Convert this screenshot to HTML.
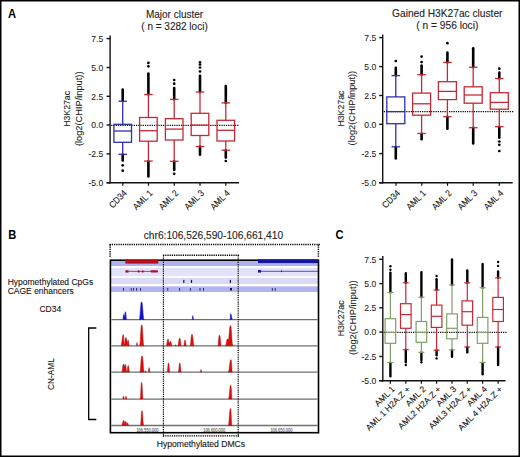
<!DOCTYPE html>
<html><head><meta charset="utf-8"><style>
html,body{margin:0;padding:0;background:#fff;}
body{width:520px;height:457px;overflow:hidden;}
svg{display:block;}
text{font-family:"Liberation Sans",sans-serif;}
</style></head><body>
<svg width="520" height="457" viewBox="0 0 520 457">
<rect width="520" height="457" fill="#fff"/>
<rect x="0.75" y="0.75" width="518.5" height="455.5" fill="none" stroke="#000" stroke-width="1.5"/>
<text x="0" y="0" font-size="12" text-anchor="start" fill="#000" font-weight="bold" transform="translate(8 17.6) scale(0.93 1)">A</text>
<text x="0" y="0" font-size="10" text-anchor="middle" fill="#222" stroke="#222" stroke-width="0.1" transform="translate(174.5 17.6)">Major cluster</text>
<text x="0" y="0" font-size="10" text-anchor="middle" fill="#222" stroke="#222" stroke-width="0.1" transform="translate(174.5 29.6)">( n = 3282 loci)</text>
<line x1="110.1" y1="35.4" x2="110.1" y2="183.39999999999998" stroke="#111" stroke-width="1.4"/>
<line x1="106.6" y1="182.7" x2="239.1" y2="182.7" stroke="#111" stroke-width="1.4"/>
<line x1="106.6" y1="38.6" x2="110.1" y2="38.6" stroke="#111" stroke-width="1.4"/>
<text x="0" y="0" font-size="9.3" text-anchor="end" fill="#1a1a1a" stroke="#1a1a1a" stroke-width="0.08" transform="translate(103.2 41.800000000000004) scale(0.925 1)">7.5</text>
<line x1="106.6" y1="67.5" x2="110.1" y2="67.5" stroke="#111" stroke-width="1.4"/>
<text x="0" y="0" font-size="9.3" text-anchor="end" fill="#1a1a1a" stroke="#1a1a1a" stroke-width="0.08" transform="translate(103.2 70.7) scale(0.925 1)">5.0</text>
<line x1="106.6" y1="96.3" x2="110.1" y2="96.3" stroke="#111" stroke-width="1.4"/>
<text x="0" y="0" font-size="9.3" text-anchor="end" fill="#1a1a1a" stroke="#1a1a1a" stroke-width="0.08" transform="translate(103.2 99.5) scale(0.925 1)">2.5</text>
<line x1="106.6" y1="125.0" x2="110.1" y2="125.0" stroke="#111" stroke-width="1.4"/>
<text x="0" y="0" font-size="9.3" text-anchor="end" fill="#1a1a1a" stroke="#1a1a1a" stroke-width="0.08" transform="translate(103.2 128.2) scale(0.925 1)">0.0</text>
<line x1="106.6" y1="153.9" x2="110.1" y2="153.9" stroke="#111" stroke-width="1.4"/>
<text x="0" y="0" font-size="9.3" text-anchor="end" fill="#1a1a1a" stroke="#1a1a1a" stroke-width="0.08" transform="translate(103.2 157.1) scale(0.925 1)">-2.5</text>
<line x1="106.6" y1="182.7" x2="110.1" y2="182.7" stroke="#111" stroke-width="1.4"/>
<text x="0" y="0" font-size="9.3" text-anchor="end" fill="#1a1a1a" stroke="#1a1a1a" stroke-width="0.08" transform="translate(103.2 185.89999999999998) scale(0.925 1)">-5.0</text>
<text x="0" y="0" font-size="9.4" text-anchor="middle" fill="#222" stroke="#222" stroke-width="0.1" transform="translate(70.2 108.9) rotate(-90) scale(0.93 1)">H3K27ac</text>
<text x="0" y="0" font-size="9.5" text-anchor="middle" fill="#222" stroke="#222" stroke-width="0.1" transform="translate(81.6 108.8) rotate(-90) scale(0.975 1)">(log2(CHIP/input))</text>
<path d="M111.20 124.65h1.2v1.3h-1.2zM113.45 124.65h1.2v1.3h-1.2zM115.70 124.65h1.2v1.3h-1.2zM117.95 124.65h1.2v1.3h-1.2zM120.20 124.65h1.2v1.3h-1.2zM122.45 124.65h1.2v1.3h-1.2zM124.70 124.65h1.2v1.3h-1.2zM126.95 124.65h1.2v1.3h-1.2zM129.20 124.65h1.2v1.3h-1.2zM131.45 124.65h1.2v1.3h-1.2zM133.70 124.65h1.2v1.3h-1.2zM135.95 124.65h1.2v1.3h-1.2zM138.20 124.65h1.2v1.3h-1.2zM140.45 124.65h1.2v1.3h-1.2zM142.70 124.65h1.2v1.3h-1.2zM144.95 124.65h1.2v1.3h-1.2zM147.20 124.65h1.2v1.3h-1.2zM149.45 124.65h1.2v1.3h-1.2zM151.70 124.65h1.2v1.3h-1.2zM153.95 124.65h1.2v1.3h-1.2zM156.20 124.65h1.2v1.3h-1.2zM158.45 124.65h1.2v1.3h-1.2zM160.70 124.65h1.2v1.3h-1.2zM162.95 124.65h1.2v1.3h-1.2zM165.20 124.65h1.2v1.3h-1.2zM167.45 124.65h1.2v1.3h-1.2zM169.70 124.65h1.2v1.3h-1.2zM171.95 124.65h1.2v1.3h-1.2zM174.20 124.65h1.2v1.3h-1.2zM176.45 124.65h1.2v1.3h-1.2zM178.70 124.65h1.2v1.3h-1.2zM180.95 124.65h1.2v1.3h-1.2zM183.20 124.65h1.2v1.3h-1.2zM185.45 124.65h1.2v1.3h-1.2zM187.70 124.65h1.2v1.3h-1.2zM189.95 124.65h1.2v1.3h-1.2zM192.20 124.65h1.2v1.3h-1.2zM194.45 124.65h1.2v1.3h-1.2zM196.70 124.65h1.2v1.3h-1.2zM198.95 124.65h1.2v1.3h-1.2zM201.20 124.65h1.2v1.3h-1.2zM203.45 124.65h1.2v1.3h-1.2zM205.70 124.65h1.2v1.3h-1.2zM207.95 124.65h1.2v1.3h-1.2zM210.20 124.65h1.2v1.3h-1.2zM212.45 124.65h1.2v1.3h-1.2zM214.70 124.65h1.2v1.3h-1.2zM216.95 124.65h1.2v1.3h-1.2zM219.20 124.65h1.2v1.3h-1.2zM221.45 124.65h1.2v1.3h-1.2zM223.70 124.65h1.2v1.3h-1.2zM225.95 124.65h1.2v1.3h-1.2zM228.20 124.65h1.2v1.3h-1.2zM230.45 124.65h1.2v1.3h-1.2zM232.70 124.65h1.2v1.3h-1.2zM234.95 124.65h1.2v1.3h-1.2zM237.20 124.65h1.2v1.3h-1.2z" fill="#000"/>
<line x1="122.7" y1="89.5" x2="122.7" y2="101" stroke="#000" stroke-width="2.6" stroke-linecap="round"/>
<line x1="122.7" y1="154.5" x2="122.7" y2="160.5" stroke="#000" stroke-width="2.6" stroke-linecap="round"/>
<circle cx="122.7" cy="165.3" r="1.35" fill="#000"/>
<circle cx="122.7" cy="170.7" r="1.35" fill="#000"/>
<line x1="122.7" y1="101.2" x2="122.7" y2="124.3" stroke="#3030aa" stroke-width="1.3"/>
<line x1="122.7" y1="142.3" x2="122.7" y2="154.3" stroke="#3030aa" stroke-width="1.3"/>
<line x1="118.4" y1="101.2" x2="127.0" y2="101.2" stroke="#3030aa" stroke-width="1.3"/>
<line x1="118.4" y1="154.3" x2="127.0" y2="154.3" stroke="#3030aa" stroke-width="1.3"/>
<rect x="113.9" y="124.3" width="17.6" height="18.000000000000014" fill="none" stroke="#3030aa" stroke-width="1.3"/>
<line x1="113.9" y1="131.0" x2="131.5" y2="131.0" stroke="#3030aa" stroke-width="1.3"/>
<line x1="148.4" y1="73.5" x2="148.4" y2="94.5" stroke="#000" stroke-width="2.6" stroke-linecap="round"/>
<circle cx="148.4" cy="62.9" r="1.35" fill="#000"/>
<circle cx="148.4" cy="66.3" r="1.35" fill="#000"/>
<line x1="148.4" y1="161.2" x2="148.4" y2="176.5" stroke="#000" stroke-width="2.6" stroke-linecap="round"/>
<line x1="148.4" y1="94.5" x2="148.4" y2="117.5" stroke="#c42a36" stroke-width="1.3"/>
<line x1="148.4" y1="141.2" x2="148.4" y2="161.1" stroke="#c42a36" stroke-width="1.3"/>
<line x1="144.1" y1="94.5" x2="152.70000000000002" y2="94.5" stroke="#c42a36" stroke-width="1.3"/>
<line x1="144.1" y1="161.1" x2="152.70000000000002" y2="161.1" stroke="#c42a36" stroke-width="1.3"/>
<rect x="139.6" y="117.5" width="17.6" height="23.69999999999999" fill="none" stroke="#c42a36" stroke-width="1.3"/>
<line x1="139.6" y1="130.7" x2="157.20000000000002" y2="130.7" stroke="#c42a36" stroke-width="1.3"/>
<line x1="174.2" y1="88" x2="174.2" y2="99.4" stroke="#000" stroke-width="2.6" stroke-linecap="round"/>
<circle cx="174.2" cy="80" r="1.35" fill="#000"/>
<circle cx="174.2" cy="83.7" r="1.35" fill="#000"/>
<line x1="174.2" y1="161.4" x2="174.2" y2="170" stroke="#000" stroke-width="2.6" stroke-linecap="round"/>
<circle cx="174.2" cy="173.8" r="1.35" fill="#000"/>
<line x1="174.2" y1="99.4" x2="174.2" y2="118.7" stroke="#c42a36" stroke-width="1.3"/>
<line x1="174.2" y1="140.0" x2="174.2" y2="161.3" stroke="#c42a36" stroke-width="1.3"/>
<line x1="169.89999999999998" y1="99.4" x2="178.5" y2="99.4" stroke="#c42a36" stroke-width="1.3"/>
<line x1="169.89999999999998" y1="161.3" x2="178.5" y2="161.3" stroke="#c42a36" stroke-width="1.3"/>
<rect x="165.39999999999998" y="118.7" width="17.6" height="21.299999999999997" fill="none" stroke="#c42a36" stroke-width="1.3"/>
<line x1="165.39999999999998" y1="129.1" x2="183.0" y2="129.1" stroke="#c42a36" stroke-width="1.3"/>
<line x1="200.0" y1="75.8" x2="200.0" y2="92" stroke="#000" stroke-width="2.6" stroke-linecap="round"/>
<circle cx="200.0" cy="62.3" r="1.35" fill="#000"/>
<circle cx="200.0" cy="64.5" r="1.35" fill="#000"/>
<circle cx="200.0" cy="67.5" r="1.35" fill="#000"/>
<circle cx="200.0" cy="71.5" r="1.35" fill="#000"/>
<line x1="200.0" y1="146.6" x2="200.0" y2="154.7" stroke="#000" stroke-width="2.6" stroke-linecap="round"/>
<line x1="200.0" y1="92.0" x2="200.0" y2="113.3" stroke="#c42a36" stroke-width="1.3"/>
<line x1="200.0" y1="135.5" x2="200.0" y2="146.5" stroke="#c42a36" stroke-width="1.3"/>
<line x1="195.7" y1="92.0" x2="204.3" y2="92.0" stroke="#c42a36" stroke-width="1.3"/>
<line x1="195.7" y1="146.5" x2="204.3" y2="146.5" stroke="#c42a36" stroke-width="1.3"/>
<rect x="191.2" y="113.3" width="17.6" height="22.200000000000003" fill="none" stroke="#c42a36" stroke-width="1.3"/>
<line x1="191.2" y1="125.1" x2="208.8" y2="125.1" stroke="#c42a36" stroke-width="1.3"/>
<line x1="225.8" y1="86" x2="225.8" y2="102.9" stroke="#000" stroke-width="2.6" stroke-linecap="round"/>
<line x1="225.8" y1="150.3" x2="225.8" y2="157.6" stroke="#000" stroke-width="2.6" stroke-linecap="round"/>
<circle cx="225.8" cy="161" r="1.35" fill="#000"/>
<line x1="225.8" y1="102.9" x2="225.8" y2="120.3" stroke="#c42a36" stroke-width="1.3"/>
<line x1="225.8" y1="141.0" x2="225.8" y2="150.2" stroke="#c42a36" stroke-width="1.3"/>
<line x1="221.5" y1="102.9" x2="230.10000000000002" y2="102.9" stroke="#c42a36" stroke-width="1.3"/>
<line x1="221.5" y1="150.2" x2="230.10000000000002" y2="150.2" stroke="#c42a36" stroke-width="1.3"/>
<rect x="217.0" y="120.3" width="17.6" height="20.700000000000003" fill="none" stroke="#c42a36" stroke-width="1.3"/>
<line x1="217.0" y1="130.3" x2="234.60000000000002" y2="130.3" stroke="#c42a36" stroke-width="1.3"/>
<line x1="122.8" y1="182.7" x2="122.8" y2="185.7" stroke="#111" stroke-width="1.2"/>
<text x="0" y="0" font-size="9.2" text-anchor="end" fill="#111" stroke="#111" stroke-width="0.1" transform="translate(127.6 193.7) rotate(-45) scale(0.9 1)">CD34</text>
<line x1="148.5" y1="182.7" x2="148.5" y2="185.7" stroke="#111" stroke-width="1.2"/>
<text x="0" y="0" font-size="9.2" text-anchor="end" fill="#111" stroke="#111" stroke-width="0.1" transform="translate(153.3 193.7) rotate(-45) scale(0.9 1)">AML 1</text>
<line x1="174.3" y1="182.7" x2="174.3" y2="185.7" stroke="#111" stroke-width="1.2"/>
<text x="0" y="0" font-size="9.2" text-anchor="end" fill="#111" stroke="#111" stroke-width="0.1" transform="translate(179.10000000000002 193.7) rotate(-45) scale(0.9 1)">AML 2</text>
<line x1="200.0" y1="182.7" x2="200.0" y2="185.7" stroke="#111" stroke-width="1.2"/>
<text x="0" y="0" font-size="9.2" text-anchor="end" fill="#111" stroke="#111" stroke-width="0.1" transform="translate(204.8 193.7) rotate(-45) scale(0.9 1)">AML 3</text>
<line x1="225.8" y1="182.7" x2="225.8" y2="185.7" stroke="#111" stroke-width="1.2"/>
<text x="0" y="0" font-size="9.2" text-anchor="end" fill="#111" stroke="#111" stroke-width="0.1" transform="translate(230.60000000000002 193.7) rotate(-45) scale(0.9 1)">AML 4</text>
<text x="0" y="0" font-size="10.2" text-anchor="middle" fill="#222" stroke="#222" stroke-width="0.1" transform="translate(447.3 16.7)">Gained H3K27ac cluster</text>
<text x="0" y="0" font-size="10.2" text-anchor="middle" fill="#222" stroke="#222" stroke-width="0.1" transform="translate(447.3 28.9)">( n = 956 loci)</text>
<line x1="382.7" y1="34.4" x2="382.7" y2="183.5" stroke="#111" stroke-width="1.4"/>
<line x1="379.2" y1="182.8" x2="512.7" y2="182.8" stroke="#111" stroke-width="1.4"/>
<line x1="379.2" y1="37.6" x2="382.7" y2="37.6" stroke="#111" stroke-width="1.4"/>
<text x="0" y="0" font-size="9.3" text-anchor="end" fill="#1a1a1a" stroke="#1a1a1a" stroke-width="0.08" transform="translate(376.3 40.800000000000004) scale(0.925 1)">7.5</text>
<line x1="379.2" y1="66.6" x2="382.7" y2="66.6" stroke="#111" stroke-width="1.4"/>
<text x="0" y="0" font-size="9.3" text-anchor="end" fill="#1a1a1a" stroke="#1a1a1a" stroke-width="0.08" transform="translate(376.3 69.8) scale(0.925 1)">5.0</text>
<line x1="379.2" y1="95.5" x2="382.7" y2="95.5" stroke="#111" stroke-width="1.4"/>
<text x="0" y="0" font-size="9.3" text-anchor="end" fill="#1a1a1a" stroke="#1a1a1a" stroke-width="0.08" transform="translate(376.3 98.7) scale(0.925 1)">2.5</text>
<line x1="379.2" y1="124.3" x2="382.7" y2="124.3" stroke="#111" stroke-width="1.4"/>
<text x="0" y="0" font-size="9.3" text-anchor="end" fill="#1a1a1a" stroke="#1a1a1a" stroke-width="0.08" transform="translate(376.3 127.5) scale(0.925 1)">0.0</text>
<line x1="379.2" y1="153.6" x2="382.7" y2="153.6" stroke="#111" stroke-width="1.4"/>
<text x="0" y="0" font-size="9.3" text-anchor="end" fill="#1a1a1a" stroke="#1a1a1a" stroke-width="0.08" transform="translate(376.3 156.79999999999998) scale(0.925 1)">-2.5</text>
<line x1="379.2" y1="182.8" x2="382.7" y2="182.8" stroke="#111" stroke-width="1.4"/>
<text x="0" y="0" font-size="9.3" text-anchor="end" fill="#1a1a1a" stroke="#1a1a1a" stroke-width="0.08" transform="translate(376.3 186.0) scale(0.925 1)">-5.0</text>
<text x="0" y="0" font-size="9.4" text-anchor="middle" fill="#222" stroke="#222" stroke-width="0.1" transform="translate(344.2 108.6) rotate(-90) scale(0.93 1)">H3K27ac</text>
<text x="0" y="0" font-size="9.5" text-anchor="middle" fill="#222" stroke="#222" stroke-width="0.1" transform="translate(355.0 108.1) rotate(-90) scale(0.975 1)">(log2(CHIP/input))</text>
<path d="M383.80 110.95h1.2v1.3h-1.2zM386.05 110.95h1.2v1.3h-1.2zM388.30 110.95h1.2v1.3h-1.2zM390.55 110.95h1.2v1.3h-1.2zM392.80 110.95h1.2v1.3h-1.2zM395.05 110.95h1.2v1.3h-1.2zM397.30 110.95h1.2v1.3h-1.2zM399.55 110.95h1.2v1.3h-1.2zM401.80 110.95h1.2v1.3h-1.2zM404.05 110.95h1.2v1.3h-1.2zM406.30 110.95h1.2v1.3h-1.2zM408.55 110.95h1.2v1.3h-1.2zM410.80 110.95h1.2v1.3h-1.2zM413.05 110.95h1.2v1.3h-1.2zM415.30 110.95h1.2v1.3h-1.2zM417.55 110.95h1.2v1.3h-1.2zM419.80 110.95h1.2v1.3h-1.2zM422.05 110.95h1.2v1.3h-1.2zM424.30 110.95h1.2v1.3h-1.2zM426.55 110.95h1.2v1.3h-1.2zM428.80 110.95h1.2v1.3h-1.2zM431.05 110.95h1.2v1.3h-1.2zM433.30 110.95h1.2v1.3h-1.2zM435.55 110.95h1.2v1.3h-1.2zM437.80 110.95h1.2v1.3h-1.2zM440.05 110.95h1.2v1.3h-1.2zM442.30 110.95h1.2v1.3h-1.2zM444.55 110.95h1.2v1.3h-1.2zM446.80 110.95h1.2v1.3h-1.2zM449.05 110.95h1.2v1.3h-1.2zM451.30 110.95h1.2v1.3h-1.2zM453.55 110.95h1.2v1.3h-1.2zM455.80 110.95h1.2v1.3h-1.2zM458.05 110.95h1.2v1.3h-1.2zM460.30 110.95h1.2v1.3h-1.2zM462.55 110.95h1.2v1.3h-1.2zM464.80 110.95h1.2v1.3h-1.2zM467.05 110.95h1.2v1.3h-1.2zM469.30 110.95h1.2v1.3h-1.2zM471.55 110.95h1.2v1.3h-1.2zM473.80 110.95h1.2v1.3h-1.2zM476.05 110.95h1.2v1.3h-1.2zM478.30 110.95h1.2v1.3h-1.2zM480.55 110.95h1.2v1.3h-1.2zM482.80 110.95h1.2v1.3h-1.2zM485.05 110.95h1.2v1.3h-1.2zM487.30 110.95h1.2v1.3h-1.2zM489.55 110.95h1.2v1.3h-1.2zM491.80 110.95h1.2v1.3h-1.2zM494.05 110.95h1.2v1.3h-1.2zM496.30 110.95h1.2v1.3h-1.2zM498.55 110.95h1.2v1.3h-1.2zM500.80 110.95h1.2v1.3h-1.2zM503.05 110.95h1.2v1.3h-1.2zM505.30 110.95h1.2v1.3h-1.2zM507.55 110.95h1.2v1.3h-1.2zM509.80 110.95h1.2v1.3h-1.2zM512.05 110.95h1.2v1.3h-1.2z" fill="#000"/>
<line x1="395.8" y1="67.8" x2="395.8" y2="75.6" stroke="#000" stroke-width="2.6" stroke-linecap="round"/>
<circle cx="395.8" cy="61" r="1.35" fill="#000"/>
<line x1="395.8" y1="147" x2="395.8" y2="158.4" stroke="#000" stroke-width="2.6" stroke-linecap="round"/>
<line x1="395.8" y1="75.6" x2="395.8" y2="96.9" stroke="#3030aa" stroke-width="1.3"/>
<line x1="395.8" y1="123.7" x2="395.8" y2="146.8" stroke="#3030aa" stroke-width="1.3"/>
<line x1="391.5" y1="75.6" x2="400.1" y2="75.6" stroke="#3030aa" stroke-width="1.3"/>
<line x1="391.5" y1="146.8" x2="400.1" y2="146.8" stroke="#3030aa" stroke-width="1.3"/>
<rect x="386.8" y="96.9" width="18" height="26.799999999999997" fill="none" stroke="#3030aa" stroke-width="1.3"/>
<line x1="386.8" y1="111.6" x2="404.8" y2="111.6" stroke="#3030aa" stroke-width="1.3"/>
<line x1="421.6" y1="65.5" x2="421.6" y2="74.7" stroke="#000" stroke-width="2.6" stroke-linecap="round"/>
<circle cx="421.6" cy="56.6" r="1.35" fill="#000"/>
<circle cx="421.6" cy="62.1" r="1.35" fill="#000"/>
<line x1="421.6" y1="133.6" x2="421.6" y2="139.3" stroke="#000" stroke-width="2.6" stroke-linecap="round"/>
<line x1="421.6" y1="74.7" x2="421.6" y2="93.1" stroke="#c42a36" stroke-width="1.3"/>
<line x1="421.6" y1="115.2" x2="421.6" y2="133.5" stroke="#c42a36" stroke-width="1.3"/>
<line x1="417.3" y1="74.7" x2="425.90000000000003" y2="74.7" stroke="#c42a36" stroke-width="1.3"/>
<line x1="417.3" y1="133.5" x2="425.90000000000003" y2="133.5" stroke="#c42a36" stroke-width="1.3"/>
<rect x="412.6" y="93.1" width="18" height="22.10000000000001" fill="none" stroke="#c42a36" stroke-width="1.3"/>
<line x1="412.6" y1="103.8" x2="430.6" y2="103.8" stroke="#c42a36" stroke-width="1.3"/>
<line x1="447.4" y1="52.5" x2="447.4" y2="62.4" stroke="#000" stroke-width="2.6" stroke-linecap="round"/>
<circle cx="447.4" cy="43.2" r="1.35" fill="#000"/>
<line x1="447.4" y1="116.8" x2="447.4" y2="128.8" stroke="#000" stroke-width="2.6" stroke-linecap="round"/>
<line x1="447.4" y1="62.4" x2="447.4" y2="81.7" stroke="#c42a36" stroke-width="1.3"/>
<line x1="447.4" y1="99.6" x2="447.4" y2="116.7" stroke="#c42a36" stroke-width="1.3"/>
<line x1="443.09999999999997" y1="62.4" x2="451.7" y2="62.4" stroke="#c42a36" stroke-width="1.3"/>
<line x1="443.09999999999997" y1="116.7" x2="451.7" y2="116.7" stroke="#c42a36" stroke-width="1.3"/>
<rect x="438.4" y="81.7" width="18" height="17.89999999999999" fill="none" stroke="#c42a36" stroke-width="1.3"/>
<line x1="438.4" y1="91.4" x2="456.4" y2="91.4" stroke="#c42a36" stroke-width="1.3"/>
<line x1="473.2" y1="48.3" x2="473.2" y2="67.3" stroke="#000" stroke-width="2.6" stroke-linecap="round"/>
<line x1="473.2" y1="127.8" x2="473.2" y2="143.5" stroke="#000" stroke-width="2.6" stroke-linecap="round"/>
<line x1="473.2" y1="67.3" x2="473.2" y2="86.8" stroke="#c42a36" stroke-width="1.3"/>
<line x1="473.2" y1="103.2" x2="473.2" y2="127.7" stroke="#c42a36" stroke-width="1.3"/>
<line x1="468.9" y1="67.3" x2="477.5" y2="67.3" stroke="#c42a36" stroke-width="1.3"/>
<line x1="468.9" y1="127.7" x2="477.5" y2="127.7" stroke="#c42a36" stroke-width="1.3"/>
<rect x="464.2" y="86.8" width="18" height="16.400000000000006" fill="none" stroke="#c42a36" stroke-width="1.3"/>
<line x1="464.2" y1="95.0" x2="482.2" y2="95.0" stroke="#c42a36" stroke-width="1.3"/>
<line x1="499.3" y1="72.6" x2="499.3" y2="78.5" stroke="#000" stroke-width="2.6" stroke-linecap="round"/>
<circle cx="499.3" cy="68.7" r="1.35" fill="#000"/>
<line x1="499.3" y1="126.8" x2="499.3" y2="137.7" stroke="#000" stroke-width="2.6" stroke-linecap="round"/>
<circle cx="499.3" cy="141.5" r="1.35" fill="#000"/>
<circle cx="499.3" cy="144.8" r="1.35" fill="#000"/>
<circle cx="499.3" cy="151" r="1.35" fill="#000"/>
<line x1="499.3" y1="78.5" x2="499.3" y2="92.7" stroke="#c42a36" stroke-width="1.3"/>
<line x1="499.3" y1="109.2" x2="499.3" y2="126.7" stroke="#c42a36" stroke-width="1.3"/>
<line x1="495.0" y1="78.5" x2="503.6" y2="78.5" stroke="#c42a36" stroke-width="1.3"/>
<line x1="495.0" y1="126.7" x2="503.6" y2="126.7" stroke="#c42a36" stroke-width="1.3"/>
<rect x="490.3" y="92.7" width="18" height="16.5" fill="none" stroke="#c42a36" stroke-width="1.3"/>
<line x1="490.3" y1="102.4" x2="508.3" y2="102.4" stroke="#c42a36" stroke-width="1.3"/>
<line x1="396.0" y1="182.8" x2="396.0" y2="185.8" stroke="#111" stroke-width="1.2"/>
<text x="0" y="0" font-size="9.2" text-anchor="end" fill="#111" stroke="#111" stroke-width="0.1" transform="translate(400.8 193.8) rotate(-45) scale(0.9 1)">CD34</text>
<line x1="421.8" y1="182.8" x2="421.8" y2="185.8" stroke="#111" stroke-width="1.2"/>
<text x="0" y="0" font-size="9.2" text-anchor="end" fill="#111" stroke="#111" stroke-width="0.1" transform="translate(426.6 193.8) rotate(-45) scale(0.9 1)">AML 1</text>
<line x1="447.5" y1="182.8" x2="447.5" y2="185.8" stroke="#111" stroke-width="1.2"/>
<text x="0" y="0" font-size="9.2" text-anchor="end" fill="#111" stroke="#111" stroke-width="0.1" transform="translate(452.3 193.8) rotate(-45) scale(0.9 1)">AML 2</text>
<line x1="473.2" y1="182.8" x2="473.2" y2="185.8" stroke="#111" stroke-width="1.2"/>
<text x="0" y="0" font-size="9.2" text-anchor="end" fill="#111" stroke="#111" stroke-width="0.1" transform="translate(478.0 193.8) rotate(-45) scale(0.9 1)">AML 3</text>
<line x1="499.3" y1="182.8" x2="499.3" y2="185.8" stroke="#111" stroke-width="1.2"/>
<text x="0" y="0" font-size="9.2" text-anchor="end" fill="#111" stroke="#111" stroke-width="0.1" transform="translate(504.1 193.8) rotate(-45) scale(0.9 1)">AML 4</text>
<text x="0" y="0" font-size="12" text-anchor="start" fill="#000" font-weight="bold" transform="translate(8.2 238.8) scale(0.93 1)">B</text>
<text x="0" y="0" font-size="10.2" text-anchor="middle" fill="#222" stroke="#222" stroke-width="0.1" transform="translate(213.4 238.6)">chr6:106,526,590-106,661,410</text>
<path d="M109.60 243.65h1.25v1.5h-1.25zM111.80 243.65h1.25v1.5h-1.25zM114.00 243.65h1.25v1.5h-1.25zM116.20 243.65h1.25v1.5h-1.25zM118.40 243.65h1.25v1.5h-1.25zM120.60 243.65h1.25v1.5h-1.25zM122.80 243.65h1.25v1.5h-1.25zM125.00 243.65h1.25v1.5h-1.25zM127.20 243.65h1.25v1.5h-1.25zM129.40 243.65h1.25v1.5h-1.25zM131.60 243.65h1.25v1.5h-1.25zM133.80 243.65h1.25v1.5h-1.25zM136.00 243.65h1.25v1.5h-1.25zM138.20 243.65h1.25v1.5h-1.25zM140.40 243.65h1.25v1.5h-1.25zM142.60 243.65h1.25v1.5h-1.25zM144.80 243.65h1.25v1.5h-1.25zM147.00 243.65h1.25v1.5h-1.25zM149.20 243.65h1.25v1.5h-1.25zM151.40 243.65h1.25v1.5h-1.25zM153.60 243.65h1.25v1.5h-1.25zM155.80 243.65h1.25v1.5h-1.25zM158.00 243.65h1.25v1.5h-1.25zM160.20 243.65h1.25v1.5h-1.25zM162.40 243.65h1.25v1.5h-1.25zM164.60 243.65h1.25v1.5h-1.25zM166.80 243.65h1.25v1.5h-1.25zM169.00 243.65h1.25v1.5h-1.25zM171.20 243.65h1.25v1.5h-1.25zM173.40 243.65h1.25v1.5h-1.25zM175.60 243.65h1.25v1.5h-1.25zM177.80 243.65h1.25v1.5h-1.25zM180.00 243.65h1.25v1.5h-1.25zM182.20 243.65h1.25v1.5h-1.25zM184.40 243.65h1.25v1.5h-1.25zM186.60 243.65h1.25v1.5h-1.25zM188.80 243.65h1.25v1.5h-1.25zM191.00 243.65h1.25v1.5h-1.25zM193.20 243.65h1.25v1.5h-1.25zM195.40 243.65h1.25v1.5h-1.25zM197.60 243.65h1.25v1.5h-1.25zM199.80 243.65h1.25v1.5h-1.25zM202.00 243.65h1.25v1.5h-1.25zM204.20 243.65h1.25v1.5h-1.25zM206.40 243.65h1.25v1.5h-1.25zM208.60 243.65h1.25v1.5h-1.25zM210.80 243.65h1.25v1.5h-1.25zM213.00 243.65h1.25v1.5h-1.25zM215.20 243.65h1.25v1.5h-1.25zM217.40 243.65h1.25v1.5h-1.25zM219.60 243.65h1.25v1.5h-1.25zM221.80 243.65h1.25v1.5h-1.25zM224.00 243.65h1.25v1.5h-1.25zM226.20 243.65h1.25v1.5h-1.25zM228.40 243.65h1.25v1.5h-1.25zM230.60 243.65h1.25v1.5h-1.25zM232.80 243.65h1.25v1.5h-1.25zM235.00 243.65h1.25v1.5h-1.25zM237.20 243.65h1.25v1.5h-1.25zM239.40 243.65h1.25v1.5h-1.25zM241.60 243.65h1.25v1.5h-1.25zM243.80 243.65h1.25v1.5h-1.25zM246.00 243.65h1.25v1.5h-1.25zM248.20 243.65h1.25v1.5h-1.25zM250.40 243.65h1.25v1.5h-1.25zM252.60 243.65h1.25v1.5h-1.25zM254.80 243.65h1.25v1.5h-1.25zM257.00 243.65h1.25v1.5h-1.25zM259.20 243.65h1.25v1.5h-1.25zM261.40 243.65h1.25v1.5h-1.25zM263.60 243.65h1.25v1.5h-1.25zM265.80 243.65h1.25v1.5h-1.25zM268.00 243.65h1.25v1.5h-1.25zM270.20 243.65h1.25v1.5h-1.25zM272.40 243.65h1.25v1.5h-1.25zM274.60 243.65h1.25v1.5h-1.25zM276.80 243.65h1.25v1.5h-1.25zM279.00 243.65h1.25v1.5h-1.25zM281.20 243.65h1.25v1.5h-1.25zM283.40 243.65h1.25v1.5h-1.25zM285.60 243.65h1.25v1.5h-1.25zM287.80 243.65h1.25v1.5h-1.25zM290.00 243.65h1.25v1.5h-1.25zM292.20 243.65h1.25v1.5h-1.25zM294.40 243.65h1.25v1.5h-1.25zM296.60 243.65h1.25v1.5h-1.25zM298.80 243.65h1.25v1.5h-1.25zM301.00 243.65h1.25v1.5h-1.25zM303.20 243.65h1.25v1.5h-1.25zM305.40 243.65h1.25v1.5h-1.25zM307.60 243.65h1.25v1.5h-1.25zM309.80 243.65h1.25v1.5h-1.25zM312.00 243.65h1.25v1.5h-1.25zM314.20 243.65h1.25v1.5h-1.25zM316.40 243.65h1.25v1.5h-1.25zM318.60 243.65h1.25v1.5h-1.25z" fill="#000"/>
<path d="M109.35 244.40h1.5v1.25h-1.5zM109.35 246.60h1.5v1.25h-1.5zM109.35 248.80h1.5v1.25h-1.5zM109.35 251.00h1.5v1.25h-1.5zM109.35 253.20h1.5v1.25h-1.5zM109.35 255.40h1.5v1.25h-1.5z" fill="#000"/>
<path d="M317.65 244.40h1.5v1.25h-1.5zM317.65 246.60h1.5v1.25h-1.5zM317.65 248.80h1.5v1.25h-1.5zM317.65 251.00h1.5v1.25h-1.5zM317.65 253.20h1.5v1.25h-1.5zM317.65 255.40h1.5v1.25h-1.5z" fill="#000"/>
<rect x="110.5" y="261" width="207.5" height="5" fill="#acb2f2"/>
<rect x="110.5" y="268" width="207.5" height="8.2" fill="#e2e2f8"/>
<rect x="110.5" y="277.9" width="207.5" height="6.1" fill="#dadaf2"/>
<rect x="110.5" y="286.4" width="207.5" height="5.6" fill="#b0b4f0"/>
<line x1="125.5" y1="271.4" x2="158" y2="271.4" stroke="#b01830" stroke-width="0.8"/>
<rect x="125.5" y="270.2" width="3" height="2.4" fill="#b01030"/>
<ellipse cx="138.6" cy="271.4" rx="1" ry="1.2" fill="#a01030"/>
<ellipse cx="142.7" cy="271.4" rx="1" ry="1.2" fill="#a01030"/>
<rect x="150.5" y="270.2" width="7.5" height="2.4" rx="1" fill="#b01030"/>
<line x1="258" y1="271.3" x2="318" y2="271.3" stroke="#3030a0" stroke-width="0.8"/>
<rect x="258" y="270" width="3" height="2.6" fill="#1818a0"/>
<rect x="281" y="270.5" width="1" height="1.6" fill="#1818a0"/>
<rect x="183.20000000000002" y="279.9" width="1.2" height="3" fill="#101040"/>
<rect x="190.9" y="279.9" width="1.2" height="3" fill="#101040"/>
<rect x="229.8" y="279.9" width="1.2" height="3" fill="#101040"/>
<rect x="122.95" y="288.0" width="0.9" height="2.8" fill="#202060"/>
<rect x="130.75" y="288.0" width="0.9" height="2.8" fill="#202060"/>
<rect x="133.05" y="288.0" width="0.9" height="2.8" fill="#202060"/>
<rect x="136.15" y="288.0" width="0.9" height="2.8" fill="#202060"/>
<rect x="139.95000000000002" y="288.0" width="0.9" height="2.8" fill="#202060"/>
<rect x="167.35000000000002" y="288.0" width="0.9" height="2.8" fill="#202060"/>
<rect x="179.15" y="288.0" width="0.9" height="2.8" fill="#202060"/>
<rect x="189.95000000000002" y="288.0" width="0.9" height="2.8" fill="#202060"/>
<rect x="199.55" y="288.0" width="0.9" height="2.8" fill="#202060"/>
<rect x="203.05" y="288.0" width="0.9" height="2.8" fill="#202060"/>
<rect x="271.85" y="288.0" width="0.9" height="2.8" fill="#202060"/>
<rect x="274.75" y="288.0" width="0.9" height="2.8" fill="#202060"/>
<rect x="230" y="288" width="2" height="2.4" fill="#101040"/>
<rect x="110.4" y="260.2" width="208.1" height="172.5" fill="none" stroke="#000" stroke-width="1.6"/>
<rect x="258" y="259.4" width="60" height="3.7" fill="#14149c"/>
<rect x="125.4" y="259.6" width="32.8" height="4.0" fill="#b80e1c"/>
<line x1="111.2" y1="319.6" x2="317.7" y2="319.6" stroke="#6e6e6e" stroke-width="1.3"/>
<line x1="111.2" y1="345.9" x2="317.7" y2="345.9" stroke="#6e6e6e" stroke-width="1.3"/>
<line x1="111.2" y1="372.2" x2="317.7" y2="372.2" stroke="#6e6e6e" stroke-width="1.3"/>
<line x1="111.2" y1="399.1" x2="317.7" y2="399.1" stroke="#6e6e6e" stroke-width="1.3"/>
<line x1="111.2" y1="425.5" x2="317.7" y2="425.5" stroke="#707070" stroke-width="1.6"/>
<text x="0" y="0" font-size="9.1" text-anchor="start" fill="#111" stroke="#111" stroke-width="0.1" transform="translate(7.7 284.8) scale(0.935 1)">Hypomethylated CpGs</text>
<text x="0" y="0" font-size="9.1" text-anchor="start" fill="#111" stroke="#111" stroke-width="0.1" transform="translate(7.7 294.4) scale(0.935 1)">CAGE enhancers</text>
<text x="0" y="0" font-size="9.1" text-anchor="middle" fill="#111" stroke="#111" stroke-width="0.1" transform="translate(50.3 311.6) scale(0.935 1)">CD34</text>
<text x="0" y="0" font-size="8.3" text-anchor="middle" fill="#111" stroke="#111" stroke-width="0.1" transform="translate(53.7 374) rotate(-90)">CN-AML</text>
<path d="M96.3 328 H88.7 V419.5 H96.3" stroke="#000" stroke-width="1.3" fill="none"/>
<text x="0" y="0" font-size="4.6" text-anchor="middle" fill="#555" stroke="#555" stroke-width="0.1" transform="translate(147.4 431.7) scale(0.86 1)">106,550,000</text>
<text x="0" y="0" font-size="4.6" text-anchor="middle" fill="#555" stroke="#555" stroke-width="0.1" transform="translate(214.2 431.7) scale(0.86 1)">106,600,000</text>
<text x="0" y="0" font-size="4.6" text-anchor="middle" fill="#555" stroke="#555" stroke-width="0.1" transform="translate(281.4 431.7) scale(0.86 1)">106,650,000</text>
<path d="M123.00 319.5 L123.00 318.43 L123.25 316.47 L123.50 314.89 L123.75 314.50 L124.00 314.62 L124.25 315.70 L124.50 317.42 L124.75 315.36 L125.00 312.84 L125.25 311.86 L125.50 311.82 L125.75 312.51 L126.00 314.77 L126.25 317.58 L126.50 319.5 Z M139.50 319.5 L139.50 318.63 L139.75 317.26 L140.00 314.87 L140.25 311.62 L140.50 308.14 L140.75 305.16 L141.00 303.18 L141.25 302.24 L141.50 302.01 L141.75 302.02 L142.00 302.36 L142.25 303.49 L142.50 305.69 L142.75 308.82 L143.00 312.32 L143.25 315.43 L143.50 317.61 L143.75 318.80 L144.00 319.5 Z M192.25 319.5 L192.25 318.62 L192.50 316.50 L192.75 315.70 L193.00 315.96 L193.25 317.79 L193.50 319.5 Z M230.25 319.5 L230.25 316.83 L230.50 313.80 L230.75 313.71 L231.00 313.94 L231.25 314.67 L231.50 315.94 L231.75 317.40 L232.00 318.57 L232.25 319.5 Z " fill="#1414d0" stroke="#1010a0" stroke-width="0.45"/>
<path d="M121.25 345.8 L121.25 344.86 L121.50 343.83 L121.75 342.31 L122.00 340.42 L122.25 338.47 L122.50 336.79 L122.75 335.58 L123.00 334.90 L123.25 334.64 L123.50 334.60 L123.75 336.79 L124.00 343.83 L124.25 344.99 L124.50 343.81 L124.75 342.06 L125.00 340.17 L125.25 338.68 L125.50 337.87 L125.75 337.61 L126.00 337.60 L126.25 337.78 L126.50 338.46 L126.75 339.82 L127.00 341.67 L127.25 343.45 L127.50 342.84 L127.75 340.88 L128.00 340.22 L128.25 340.26 L128.50 341.18 L128.75 343.35 L129.00 345.17 L129.25 345.8 Z M136.50 345.8 L136.50 345.24 L136.75 343.23 L137.00 342.60 L137.25 343.23 L137.50 345.24 L137.75 345.8 Z M139.75 345.8 L139.75 344.99 L140.00 343.37 L140.25 340.30 L140.50 336.00 L140.75 331.45 L141.00 327.82 L141.25 325.72 L141.50 324.97 L141.75 324.90 L142.00 325.15 L142.25 326.37 L142.50 329.10 L142.75 333.21 L143.00 337.82 L143.25 341.71 L143.50 344.18 L143.75 345.32 L144.00 345.8 Z M166.50 345.8 L166.50 345.25 L166.75 344.25 L167.00 342.68 L167.25 341.03 L167.50 339.87 L167.75 339.37 L168.00 339.30 L168.25 339.37 L168.50 339.87 L168.75 341.03 L169.00 342.67 L169.25 343.95 L169.50 343.33 L169.75 342.37 L170.00 341.79 L170.25 341.61 L170.50 341.60 L170.75 341.73 L171.00 342.22 L171.25 343.12 L171.50 344.22 L171.75 345.11 L172.00 345.8 Z M175.00 345.8 L175.00 345.35 L175.25 344.75 L175.50 344.72 L175.75 345.19 L176.00 345.8 Z M178.00 345.8 L178.00 345.16 L178.25 344.24 L178.50 342.81 L178.75 341.15 L179.00 339.68 L179.25 338.72 L179.50 338.29 L179.75 338.20 L180.00 338.29 L180.25 339.13 L180.50 341.15 L180.75 343.58 L181.00 345.16 L181.25 345.8 Z M184.00 345.8 L184.00 344.78 L184.25 343.02 L184.50 341.13 L184.75 340.16 L185.00 340.00 L185.25 340.16 L185.50 341.13 L185.75 343.02 L186.00 344.78 L186.25 345.8 Z M190.25 345.8 L190.25 345.07 L190.50 343.78 L190.75 341.60 L191.00 338.93 L191.25 336.55 L191.50 335.02 L191.75 334.39 L192.00 334.30 L192.25 334.39 L192.50 335.02 L192.75 336.55 L193.00 338.93 L193.25 341.60 L193.50 343.78 L193.75 345.07 L194.00 345.8 Z M218.00 345.8 L218.00 344.91 L218.25 343.27 L218.50 340.71 L218.75 338.02 L219.00 336.13 L219.25 335.32 L219.50 335.20 L219.75 335.32 L220.00 336.13 L220.25 338.02 L220.50 340.71 L220.75 343.27 L221.00 344.91 L221.25 345.8 Z M225.75 345.8 L225.75 345.17 L226.00 344.34 L226.25 343.10 L226.50 341.68 L226.75 340.40 L227.00 339.53 L227.25 339.11 L227.50 339.00 L227.75 339.01 L228.00 339.16 L228.25 339.62 L228.50 340.07 L228.75 338.92 L229.00 335.92 L229.25 332.51 L229.50 329.54 L229.75 327.42 L230.00 326.23 L230.25 325.77 L230.50 325.70 L230.75 325.82 L231.00 326.65 L231.25 328.73 L231.50 332.15 L231.75 336.36 L232.00 340.36 L232.25 343.28 L232.50 344.89 L232.75 345.8 Z " fill="#e00c0c" stroke="#a80808" stroke-width="0.45"/>
<path d="M122.00 372.1 L122.00 371.43 L122.25 370.19 L122.50 368.26 L122.75 366.23 L123.00 364.80 L123.25 364.19 L123.50 364.10 L123.75 364.19 L124.00 364.80 L124.25 366.13 L124.50 366.89 L124.75 365.63 L125.00 364.62 L125.25 364.40 L125.50 364.47 L125.75 365.13 L126.00 366.81 L126.25 369.09 L126.50 370.94 L126.75 372.1 Z M127.25 372.1 L127.25 371.15 L127.50 369.06 L127.75 366.73 L128.00 365.62 L128.25 365.50 L128.50 365.89 L128.75 367.57 L129.00 370.02 L129.25 371.62 L129.50 372.1 Z M140.00 372.1 L140.00 371.30 L140.25 369.95 L140.50 367.57 L140.75 364.37 L141.00 361.04 L141.25 358.36 L141.50 356.74 L141.75 356.09 L142.00 356.00 L142.25 356.09 L142.50 356.74 L142.75 358.36 L143.00 361.04 L143.25 364.37 L143.50 367.57 L143.75 369.95 L144.00 371.30 L144.25 372.1 Z M145.25 372.1 L145.25 371.34 L145.50 371.00 L145.75 371.34 L146.00 372.1 Z M148.50 372.1 L148.50 370.83 L148.75 368.60 L149.00 367.63 L149.25 367.69 L149.50 369.01 L149.75 371.20 L150.00 372.1 Z M167.50 372.1 L167.50 370.50 L167.75 367.73 L168.00 364.78 L168.25 363.24 L168.50 363.00 L168.75 363.24 L169.00 364.78 L169.25 367.73 L169.50 370.50 L169.75 372.1 Z M178.50 372.1 L178.50 371.65 L178.75 370.23 L179.00 367.58 L179.25 364.85 L179.50 363.33 L179.75 363.00 L180.00 363.10 L180.25 364.07 L180.50 366.41 L180.75 369.28 L181.00 371.24 L181.25 372.1 Z M200.50 372.1 L200.50 371.64 L200.75 370.01 L201.00 369.50 L201.25 370.01 L201.50 371.64 L201.75 372.1 Z M228.50 372.1 L228.50 371.63 L228.75 370.96 L229.00 369.78 L229.25 368.06 L229.50 365.98 L229.75 363.86 L230.00 362.04 L230.25 360.75 L230.50 360.02 L230.75 359.74 L231.00 359.70 L231.25 360.06 L231.50 362.29 L231.75 366.48 L232.00 370.20 L232.25 372.1 Z " fill="#e00c0c" stroke="#a80808" stroke-width="0.45"/>
<path d="M123.00 398.9 L123.00 397.60 L123.25 396.44 L123.50 396.20 L123.75 396.44 L124.00 397.60 L124.25 398.9 Z M125.50 398.9 L125.50 397.60 L125.75 396.44 L126.00 396.20 L126.25 396.44 L126.50 397.60 L126.75 398.9 Z M140.25 398.9 L140.25 398.33 L140.50 396.21 L140.75 391.73 L141.00 386.55 L141.25 383.25 L141.50 382.32 L141.75 382.38 L142.00 383.69 L142.25 387.50 L142.50 392.78 L142.75 396.83 L143.00 398.9 Z M228.75 398.9 L228.75 398.13 L229.00 396.96 L229.25 394.98 L229.50 392.37 L229.75 389.66 L230.00 387.44 L230.25 386.04 L230.50 385.42 L230.75 385.30 L231.00 385.53 L231.25 387.71 L231.50 392.37 L231.75 396.73 L232.00 398.9 Z " fill="#e00c0c" stroke="#a80808" stroke-width="0.45"/>
<path d="M122.00 425.4 L122.00 424.58 L122.25 423.87 L122.50 422.98 L122.75 422.05 L123.00 421.27 L123.25 420.75 L123.50 420.48 L123.75 420.40 L124.00 420.44 L124.25 421.72 L124.50 424.14 L124.75 423.41 L125.00 422.32 L125.25 421.68 L125.50 421.50 L125.75 421.51 L126.00 421.76 L126.25 422.51 L126.50 423.64 L126.75 424.66 L127.00 424.64 L127.25 423.30 L127.50 422.72 L127.75 422.75 L128.00 423.55 L128.25 424.86 L128.50 425.4 Z M140.75 425.4 L140.75 423.66 L141.00 420.45 L141.25 416.08 L141.50 412.49 L141.75 410.85 L142.00 410.60 L142.25 410.85 L142.50 412.49 L142.75 416.08 L143.00 420.45 L143.25 423.66 L143.50 425.4 Z M228.50 425.4 L228.50 424.63 L228.75 423.36 L229.00 421.10 L229.25 417.97 L229.50 414.56 L229.75 411.63 L230.00 409.68 L230.25 408.74 L230.50 408.51 L230.75 408.62 L231.00 410.66 L231.25 416.01 L231.50 421.85 L231.75 424.75 L232.00 425.4 Z " fill="#e00c0c" stroke="#a80808" stroke-width="0.45"/>
<path d="M163.00 254.45h1.25v1.5h-1.25zM165.20 254.45h1.25v1.5h-1.25zM167.40 254.45h1.25v1.5h-1.25zM169.60 254.45h1.25v1.5h-1.25zM171.80 254.45h1.25v1.5h-1.25zM174.00 254.45h1.25v1.5h-1.25zM176.20 254.45h1.25v1.5h-1.25zM178.40 254.45h1.25v1.5h-1.25zM180.60 254.45h1.25v1.5h-1.25zM182.80 254.45h1.25v1.5h-1.25zM185.00 254.45h1.25v1.5h-1.25zM187.20 254.45h1.25v1.5h-1.25zM189.40 254.45h1.25v1.5h-1.25zM191.60 254.45h1.25v1.5h-1.25zM193.80 254.45h1.25v1.5h-1.25zM196.00 254.45h1.25v1.5h-1.25zM198.20 254.45h1.25v1.5h-1.25zM200.40 254.45h1.25v1.5h-1.25zM202.60 254.45h1.25v1.5h-1.25zM204.80 254.45h1.25v1.5h-1.25zM207.00 254.45h1.25v1.5h-1.25zM209.20 254.45h1.25v1.5h-1.25zM211.40 254.45h1.25v1.5h-1.25zM213.60 254.45h1.25v1.5h-1.25zM215.80 254.45h1.25v1.5h-1.25zM218.00 254.45h1.25v1.5h-1.25zM220.20 254.45h1.25v1.5h-1.25zM222.40 254.45h1.25v1.5h-1.25zM224.60 254.45h1.25v1.5h-1.25zM226.80 254.45h1.25v1.5h-1.25zM229.00 254.45h1.25v1.5h-1.25zM231.20 254.45h1.25v1.5h-1.25zM233.40 254.45h1.25v1.5h-1.25zM235.60 254.45h1.25v1.5h-1.25zM237.80 254.45h1.25v1.5h-1.25z" fill="#000"/>
<path d="M163.00 435.20h1.25v1.2h-1.25zM165.20 435.20h1.25v1.2h-1.25zM167.40 435.20h1.25v1.2h-1.25zM169.60 435.20h1.25v1.2h-1.25zM171.80 435.20h1.25v1.2h-1.25zM174.00 435.20h1.25v1.2h-1.25zM176.20 435.20h1.25v1.2h-1.25zM178.40 435.20h1.25v1.2h-1.25zM180.60 435.20h1.25v1.2h-1.25zM182.80 435.20h1.25v1.2h-1.25zM185.00 435.20h1.25v1.2h-1.25zM187.20 435.20h1.25v1.2h-1.25zM189.40 435.20h1.25v1.2h-1.25zM191.60 435.20h1.25v1.2h-1.25zM193.80 435.20h1.25v1.2h-1.25zM196.00 435.20h1.25v1.2h-1.25zM198.20 435.20h1.25v1.2h-1.25zM200.40 435.20h1.25v1.2h-1.25zM202.60 435.20h1.25v1.2h-1.25zM204.80 435.20h1.25v1.2h-1.25zM207.00 435.20h1.25v1.2h-1.25zM209.20 435.20h1.25v1.2h-1.25zM211.40 435.20h1.25v1.2h-1.25zM213.60 435.20h1.25v1.2h-1.25zM215.80 435.20h1.25v1.2h-1.25zM218.00 435.20h1.25v1.2h-1.25zM220.20 435.20h1.25v1.2h-1.25zM222.40 435.20h1.25v1.2h-1.25zM224.60 435.20h1.25v1.2h-1.25zM226.80 435.20h1.25v1.2h-1.25zM229.00 435.20h1.25v1.2h-1.25zM231.20 435.20h1.25v1.2h-1.25zM233.40 435.20h1.25v1.2h-1.25zM235.60 435.20h1.25v1.2h-1.25zM237.80 435.20h1.25v1.2h-1.25z" fill="#000"/>
<path d="M162.83 255.20h1.15v1.25h-1.15zM162.83 257.40h1.15v1.25h-1.15zM162.83 259.60h1.15v1.25h-1.15zM162.83 261.80h1.15v1.25h-1.15zM162.83 264.00h1.15v1.25h-1.15zM162.83 266.20h1.15v1.25h-1.15zM162.83 268.40h1.15v1.25h-1.15zM162.83 270.60h1.15v1.25h-1.15zM162.83 272.80h1.15v1.25h-1.15zM162.83 275.00h1.15v1.25h-1.15zM162.83 277.20h1.15v1.25h-1.15zM162.83 279.40h1.15v1.25h-1.15zM162.83 281.60h1.15v1.25h-1.15zM162.83 283.80h1.15v1.25h-1.15zM162.83 286.00h1.15v1.25h-1.15zM162.83 288.20h1.15v1.25h-1.15zM162.83 290.40h1.15v1.25h-1.15zM162.83 292.60h1.15v1.25h-1.15zM162.83 294.80h1.15v1.25h-1.15zM162.83 297.00h1.15v1.25h-1.15zM162.83 299.20h1.15v1.25h-1.15zM162.83 301.40h1.15v1.25h-1.15zM162.83 303.60h1.15v1.25h-1.15zM162.83 305.80h1.15v1.25h-1.15zM162.83 308.00h1.15v1.25h-1.15zM162.83 310.20h1.15v1.25h-1.15zM162.83 312.40h1.15v1.25h-1.15zM162.83 314.60h1.15v1.25h-1.15zM162.83 316.80h1.15v1.25h-1.15zM162.83 319.00h1.15v1.25h-1.15zM162.83 321.20h1.15v1.25h-1.15zM162.83 323.40h1.15v1.25h-1.15zM162.83 325.60h1.15v1.25h-1.15zM162.83 327.80h1.15v1.25h-1.15zM162.83 330.00h1.15v1.25h-1.15zM162.83 332.20h1.15v1.25h-1.15zM162.83 334.40h1.15v1.25h-1.15zM162.83 336.60h1.15v1.25h-1.15zM162.83 338.80h1.15v1.25h-1.15zM162.83 341.00h1.15v1.25h-1.15zM162.83 343.20h1.15v1.25h-1.15zM162.83 345.40h1.15v1.25h-1.15zM162.83 347.60h1.15v1.25h-1.15zM162.83 349.80h1.15v1.25h-1.15zM162.83 352.00h1.15v1.25h-1.15zM162.83 354.20h1.15v1.25h-1.15zM162.83 356.40h1.15v1.25h-1.15zM162.83 358.60h1.15v1.25h-1.15zM162.83 360.80h1.15v1.25h-1.15zM162.83 363.00h1.15v1.25h-1.15zM162.83 365.20h1.15v1.25h-1.15zM162.83 367.40h1.15v1.25h-1.15zM162.83 369.60h1.15v1.25h-1.15zM162.83 371.80h1.15v1.25h-1.15zM162.83 374.00h1.15v1.25h-1.15zM162.83 376.20h1.15v1.25h-1.15zM162.83 378.40h1.15v1.25h-1.15zM162.83 380.60h1.15v1.25h-1.15zM162.83 382.80h1.15v1.25h-1.15zM162.83 385.00h1.15v1.25h-1.15zM162.83 387.20h1.15v1.25h-1.15zM162.83 389.40h1.15v1.25h-1.15zM162.83 391.60h1.15v1.25h-1.15zM162.83 393.80h1.15v1.25h-1.15zM162.83 396.00h1.15v1.25h-1.15zM162.83 398.20h1.15v1.25h-1.15zM162.83 400.40h1.15v1.25h-1.15zM162.83 402.60h1.15v1.25h-1.15zM162.83 404.80h1.15v1.25h-1.15zM162.83 407.00h1.15v1.25h-1.15zM162.83 409.20h1.15v1.25h-1.15zM162.83 411.40h1.15v1.25h-1.15zM162.83 413.60h1.15v1.25h-1.15zM162.83 415.80h1.15v1.25h-1.15zM162.83 418.00h1.15v1.25h-1.15zM162.83 420.20h1.15v1.25h-1.15zM162.83 422.40h1.15v1.25h-1.15zM162.83 424.60h1.15v1.25h-1.15zM162.83 426.80h1.15v1.25h-1.15zM162.83 429.00h1.15v1.25h-1.15zM162.83 431.20h1.15v1.25h-1.15zM162.83 433.40h1.15v1.25h-1.15zM162.83 435.60h1.15v1.25h-1.15z" fill="#000"/>
<path d="M237.62 255.20h1.15v1.25h-1.15zM237.62 257.40h1.15v1.25h-1.15zM237.62 259.60h1.15v1.25h-1.15zM237.62 261.80h1.15v1.25h-1.15zM237.62 264.00h1.15v1.25h-1.15zM237.62 266.20h1.15v1.25h-1.15zM237.62 268.40h1.15v1.25h-1.15zM237.62 270.60h1.15v1.25h-1.15zM237.62 272.80h1.15v1.25h-1.15zM237.62 275.00h1.15v1.25h-1.15zM237.62 277.20h1.15v1.25h-1.15zM237.62 279.40h1.15v1.25h-1.15zM237.62 281.60h1.15v1.25h-1.15zM237.62 283.80h1.15v1.25h-1.15zM237.62 286.00h1.15v1.25h-1.15zM237.62 288.20h1.15v1.25h-1.15zM237.62 290.40h1.15v1.25h-1.15zM237.62 292.60h1.15v1.25h-1.15zM237.62 294.80h1.15v1.25h-1.15zM237.62 297.00h1.15v1.25h-1.15zM237.62 299.20h1.15v1.25h-1.15zM237.62 301.40h1.15v1.25h-1.15zM237.62 303.60h1.15v1.25h-1.15zM237.62 305.80h1.15v1.25h-1.15zM237.62 308.00h1.15v1.25h-1.15zM237.62 310.20h1.15v1.25h-1.15zM237.62 312.40h1.15v1.25h-1.15zM237.62 314.60h1.15v1.25h-1.15zM237.62 316.80h1.15v1.25h-1.15zM237.62 319.00h1.15v1.25h-1.15zM237.62 321.20h1.15v1.25h-1.15zM237.62 323.40h1.15v1.25h-1.15zM237.62 325.60h1.15v1.25h-1.15zM237.62 327.80h1.15v1.25h-1.15zM237.62 330.00h1.15v1.25h-1.15zM237.62 332.20h1.15v1.25h-1.15zM237.62 334.40h1.15v1.25h-1.15zM237.62 336.60h1.15v1.25h-1.15zM237.62 338.80h1.15v1.25h-1.15zM237.62 341.00h1.15v1.25h-1.15zM237.62 343.20h1.15v1.25h-1.15zM237.62 345.40h1.15v1.25h-1.15zM237.62 347.60h1.15v1.25h-1.15zM237.62 349.80h1.15v1.25h-1.15zM237.62 352.00h1.15v1.25h-1.15zM237.62 354.20h1.15v1.25h-1.15zM237.62 356.40h1.15v1.25h-1.15zM237.62 358.60h1.15v1.25h-1.15zM237.62 360.80h1.15v1.25h-1.15zM237.62 363.00h1.15v1.25h-1.15zM237.62 365.20h1.15v1.25h-1.15zM237.62 367.40h1.15v1.25h-1.15zM237.62 369.60h1.15v1.25h-1.15zM237.62 371.80h1.15v1.25h-1.15zM237.62 374.00h1.15v1.25h-1.15zM237.62 376.20h1.15v1.25h-1.15zM237.62 378.40h1.15v1.25h-1.15zM237.62 380.60h1.15v1.25h-1.15zM237.62 382.80h1.15v1.25h-1.15zM237.62 385.00h1.15v1.25h-1.15zM237.62 387.20h1.15v1.25h-1.15zM237.62 389.40h1.15v1.25h-1.15zM237.62 391.60h1.15v1.25h-1.15zM237.62 393.80h1.15v1.25h-1.15zM237.62 396.00h1.15v1.25h-1.15zM237.62 398.20h1.15v1.25h-1.15zM237.62 400.40h1.15v1.25h-1.15zM237.62 402.60h1.15v1.25h-1.15zM237.62 404.80h1.15v1.25h-1.15zM237.62 407.00h1.15v1.25h-1.15zM237.62 409.20h1.15v1.25h-1.15zM237.62 411.40h1.15v1.25h-1.15zM237.62 413.60h1.15v1.25h-1.15zM237.62 415.80h1.15v1.25h-1.15zM237.62 418.00h1.15v1.25h-1.15zM237.62 420.20h1.15v1.25h-1.15zM237.62 422.40h1.15v1.25h-1.15zM237.62 424.60h1.15v1.25h-1.15zM237.62 426.80h1.15v1.25h-1.15zM237.62 429.00h1.15v1.25h-1.15zM237.62 431.20h1.15v1.25h-1.15zM237.62 433.40h1.15v1.25h-1.15zM237.62 435.60h1.15v1.25h-1.15z" fill="#000"/>
<text x="0" y="0" font-size="8.6" text-anchor="middle" fill="#111" stroke="#111" stroke-width="0.1" transform="translate(200.9 446.6)">Hypomethylated DMCs</text>
<text x="0" y="0" font-size="12" text-anchor="start" fill="#000" font-weight="bold" transform="translate(335.5 238.8) scale(0.93 1)">C</text>
<line x1="382.8" y1="256.0" x2="382.8" y2="381.4" stroke="#111" stroke-width="1.4"/>
<line x1="379.3" y1="380.7" x2="505.6" y2="380.7" stroke="#111" stroke-width="1.4"/>
<line x1="379.3" y1="259.3" x2="382.8" y2="259.3" stroke="#111" stroke-width="1.4"/>
<text x="0" y="0" font-size="9.3" text-anchor="end" fill="#1a1a1a" stroke="#1a1a1a" stroke-width="0.08" transform="translate(376.3 262.5) scale(0.925 1)">7.5</text>
<line x1="379.3" y1="283.6" x2="382.8" y2="283.6" stroke="#111" stroke-width="1.4"/>
<text x="0" y="0" font-size="9.3" text-anchor="end" fill="#1a1a1a" stroke="#1a1a1a" stroke-width="0.08" transform="translate(376.3 286.8) scale(0.925 1)">5.0</text>
<line x1="379.3" y1="307.8" x2="382.8" y2="307.8" stroke="#111" stroke-width="1.4"/>
<text x="0" y="0" font-size="9.3" text-anchor="end" fill="#1a1a1a" stroke="#1a1a1a" stroke-width="0.08" transform="translate(376.3 311.0) scale(0.925 1)">2.5</text>
<line x1="379.3" y1="332.1" x2="382.8" y2="332.1" stroke="#111" stroke-width="1.4"/>
<text x="0" y="0" font-size="9.3" text-anchor="end" fill="#1a1a1a" stroke="#1a1a1a" stroke-width="0.08" transform="translate(376.3 335.3) scale(0.925 1)">0.0</text>
<line x1="379.3" y1="356.5" x2="382.8" y2="356.5" stroke="#111" stroke-width="1.4"/>
<text x="0" y="0" font-size="9.3" text-anchor="end" fill="#1a1a1a" stroke="#1a1a1a" stroke-width="0.08" transform="translate(376.3 359.7) scale(0.925 1)">-2.5</text>
<line x1="379.3" y1="380.7" x2="382.8" y2="380.7" stroke="#111" stroke-width="1.4"/>
<text x="0" y="0" font-size="9.3" text-anchor="end" fill="#1a1a1a" stroke="#1a1a1a" stroke-width="0.08" transform="translate(376.3 383.9) scale(0.925 1)">-5.0</text>
<text x="0" y="0" font-size="9.4" text-anchor="middle" fill="#222" stroke="#222" stroke-width="0.1" transform="translate(343.6 318.4) rotate(-90) scale(0.93 1)">H3K27ac</text>
<text x="0" y="0" font-size="9.5" text-anchor="middle" fill="#222" stroke="#222" stroke-width="0.1" transform="translate(355.8 317.6) rotate(-90) scale(0.975 1)">(log2(CHIP/input))</text>
<path d="M383.80 331.75h1.2v1.3h-1.2zM386.05 331.75h1.2v1.3h-1.2zM388.30 331.75h1.2v1.3h-1.2zM390.55 331.75h1.2v1.3h-1.2zM392.80 331.75h1.2v1.3h-1.2zM395.05 331.75h1.2v1.3h-1.2zM397.30 331.75h1.2v1.3h-1.2zM399.55 331.75h1.2v1.3h-1.2zM401.80 331.75h1.2v1.3h-1.2zM404.05 331.75h1.2v1.3h-1.2zM406.30 331.75h1.2v1.3h-1.2zM408.55 331.75h1.2v1.3h-1.2zM410.80 331.75h1.2v1.3h-1.2zM413.05 331.75h1.2v1.3h-1.2zM415.30 331.75h1.2v1.3h-1.2zM417.55 331.75h1.2v1.3h-1.2zM419.80 331.75h1.2v1.3h-1.2zM422.05 331.75h1.2v1.3h-1.2zM424.30 331.75h1.2v1.3h-1.2zM426.55 331.75h1.2v1.3h-1.2zM428.80 331.75h1.2v1.3h-1.2zM431.05 331.75h1.2v1.3h-1.2zM433.30 331.75h1.2v1.3h-1.2zM435.55 331.75h1.2v1.3h-1.2zM437.80 331.75h1.2v1.3h-1.2zM440.05 331.75h1.2v1.3h-1.2zM442.30 331.75h1.2v1.3h-1.2zM444.55 331.75h1.2v1.3h-1.2zM446.80 331.75h1.2v1.3h-1.2zM449.05 331.75h1.2v1.3h-1.2zM451.30 331.75h1.2v1.3h-1.2zM453.55 331.75h1.2v1.3h-1.2zM455.80 331.75h1.2v1.3h-1.2zM458.05 331.75h1.2v1.3h-1.2zM460.30 331.75h1.2v1.3h-1.2zM462.55 331.75h1.2v1.3h-1.2zM464.80 331.75h1.2v1.3h-1.2zM467.05 331.75h1.2v1.3h-1.2zM469.30 331.75h1.2v1.3h-1.2zM471.55 331.75h1.2v1.3h-1.2zM473.80 331.75h1.2v1.3h-1.2zM476.05 331.75h1.2v1.3h-1.2zM478.30 331.75h1.2v1.3h-1.2zM480.55 331.75h1.2v1.3h-1.2zM482.80 331.75h1.2v1.3h-1.2zM485.05 331.75h1.2v1.3h-1.2zM487.30 331.75h1.2v1.3h-1.2zM489.55 331.75h1.2v1.3h-1.2zM491.80 331.75h1.2v1.3h-1.2zM494.05 331.75h1.2v1.3h-1.2zM496.30 331.75h1.2v1.3h-1.2zM498.55 331.75h1.2v1.3h-1.2zM500.80 331.75h1.2v1.3h-1.2zM503.05 331.75h1.2v1.3h-1.2zM505.30 331.75h1.2v1.3h-1.2z" fill="#000"/>
<line x1="390.4" y1="272.6" x2="390.4" y2="292.4" stroke="#000" stroke-width="2.4" stroke-linecap="round"/>
<circle cx="390.4" cy="266.2" r="1.2" fill="#000"/>
<circle cx="390.4" cy="269.7" r="1.2" fill="#000"/>
<line x1="390.4" y1="362.7" x2="390.4" y2="376.3" stroke="#000" stroke-width="2.4" stroke-linecap="round"/>
<line x1="390.4" y1="292.4" x2="390.4" y2="318.7" stroke="#7fa066" stroke-width="1.2"/>
<line x1="390.4" y1="343.3" x2="390.4" y2="362.6" stroke="#7fa066" stroke-width="1.2"/>
<line x1="387.4" y1="292.4" x2="393.4" y2="292.4" stroke="#7fa066" stroke-width="1.2"/>
<line x1="387.4" y1="362.6" x2="393.4" y2="362.6" stroke="#7fa066" stroke-width="1.2"/>
<rect x="385.09999999999997" y="318.7" width="10.6" height="24.600000000000023" fill="none" stroke="#7fa066" stroke-width="1.2"/>
<line x1="385.09999999999997" y1="332.4" x2="395.7" y2="332.4" stroke="#7fa066" stroke-width="1.2"/>
<line x1="405.8" y1="273.2" x2="405.8" y2="282.8" stroke="#000" stroke-width="2.4" stroke-linecap="round"/>
<line x1="405.8" y1="349.8" x2="405.8" y2="362.3" stroke="#000" stroke-width="2.4" stroke-linecap="round"/>
<circle cx="405.8" cy="365" r="1.2" fill="#000"/>
<line x1="405.8" y1="282.8" x2="405.8" y2="303.7" stroke="#c42a36" stroke-width="1.2"/>
<line x1="405.8" y1="328.3" x2="405.8" y2="349.7" stroke="#c42a36" stroke-width="1.2"/>
<line x1="402.8" y1="282.8" x2="408.8" y2="282.8" stroke="#c42a36" stroke-width="1.2"/>
<line x1="402.8" y1="349.7" x2="408.8" y2="349.7" stroke="#c42a36" stroke-width="1.2"/>
<rect x="400.5" y="303.7" width="10.6" height="24.600000000000023" fill="none" stroke="#c42a36" stroke-width="1.2"/>
<line x1="400.5" y1="314.6" x2="411.1" y2="314.6" stroke="#c42a36" stroke-width="1.2"/>
<line x1="421.4" y1="272.1" x2="421.4" y2="297.2" stroke="#000" stroke-width="2.4" stroke-linecap="round"/>
<line x1="421.4" y1="352.5" x2="421.4" y2="360" stroke="#000" stroke-width="2.4" stroke-linecap="round"/>
<circle cx="421.4" cy="362.3" r="1.2" fill="#000"/>
<line x1="421.4" y1="297.2" x2="421.4" y2="321.5" stroke="#7fa066" stroke-width="1.2"/>
<line x1="421.4" y1="342.3" x2="421.4" y2="352.4" stroke="#7fa066" stroke-width="1.2"/>
<line x1="418.4" y1="297.2" x2="424.4" y2="297.2" stroke="#7fa066" stroke-width="1.2"/>
<line x1="418.4" y1="352.4" x2="424.4" y2="352.4" stroke="#7fa066" stroke-width="1.2"/>
<rect x="416.09999999999997" y="321.5" width="10.6" height="20.80000000000001" fill="none" stroke="#7fa066" stroke-width="1.2"/>
<line x1="416.09999999999997" y1="332.4" x2="426.7" y2="332.4" stroke="#7fa066" stroke-width="1.2"/>
<line x1="436.6" y1="279.2" x2="436.6" y2="290" stroke="#000" stroke-width="2.4" stroke-linecap="round"/>
<circle cx="436.6" cy="276" r="1.2" fill="#000"/>
<line x1="436.6" y1="350.3" x2="436.6" y2="355.2" stroke="#000" stroke-width="2.4" stroke-linecap="round"/>
<circle cx="436.6" cy="358.4" r="1.2" fill="#000"/>
<line x1="436.6" y1="290.0" x2="436.6" y2="305.1" stroke="#c42a36" stroke-width="1.2"/>
<line x1="436.6" y1="327.4" x2="436.6" y2="350.2" stroke="#c42a36" stroke-width="1.2"/>
<line x1="433.6" y1="290.0" x2="439.6" y2="290.0" stroke="#c42a36" stroke-width="1.2"/>
<line x1="433.6" y1="350.2" x2="439.6" y2="350.2" stroke="#c42a36" stroke-width="1.2"/>
<rect x="431.3" y="305.1" width="10.6" height="22.299999999999955" fill="none" stroke="#c42a36" stroke-width="1.2"/>
<line x1="431.3" y1="316.3" x2="441.90000000000003" y2="316.3" stroke="#c42a36" stroke-width="1.2"/>
<line x1="452.0" y1="259.5" x2="452.0" y2="285" stroke="#000" stroke-width="2.4" stroke-linecap="round"/>
<line x1="452.0" y1="350" x2="452.0" y2="356.8" stroke="#000" stroke-width="2.4" stroke-linecap="round"/>
<line x1="452.0" y1="285.0" x2="452.0" y2="313.9" stroke="#7fa066" stroke-width="1.2"/>
<line x1="452.0" y1="338.8" x2="452.0" y2="349.9" stroke="#7fa066" stroke-width="1.2"/>
<line x1="449.0" y1="285.0" x2="455.0" y2="285.0" stroke="#7fa066" stroke-width="1.2"/>
<line x1="449.0" y1="349.9" x2="455.0" y2="349.9" stroke="#7fa066" stroke-width="1.2"/>
<rect x="446.7" y="313.9" width="10.6" height="24.900000000000034" fill="none" stroke="#7fa066" stroke-width="1.2"/>
<line x1="446.7" y1="328.3" x2="457.3" y2="328.3" stroke="#7fa066" stroke-width="1.2"/>
<line x1="467.3" y1="270.4" x2="467.3" y2="282.8" stroke="#000" stroke-width="2.4" stroke-linecap="round"/>
<line x1="467.3" y1="347.1" x2="467.3" y2="352.4" stroke="#000" stroke-width="2.4" stroke-linecap="round"/>
<line x1="467.3" y1="282.8" x2="467.3" y2="300.9" stroke="#c42a36" stroke-width="1.2"/>
<line x1="467.3" y1="325.2" x2="467.3" y2="347.0" stroke="#c42a36" stroke-width="1.2"/>
<line x1="464.3" y1="282.8" x2="470.3" y2="282.8" stroke="#c42a36" stroke-width="1.2"/>
<line x1="464.3" y1="347.0" x2="470.3" y2="347.0" stroke="#c42a36" stroke-width="1.2"/>
<rect x="462.0" y="300.9" width="10.6" height="24.30000000000001" fill="none" stroke="#c42a36" stroke-width="1.2"/>
<line x1="462.0" y1="311.7" x2="472.6" y2="311.7" stroke="#c42a36" stroke-width="1.2"/>
<line x1="482.6" y1="263.9" x2="482.6" y2="287.7" stroke="#000" stroke-width="2.4" stroke-linecap="round"/>
<line x1="482.6" y1="362.7" x2="482.6" y2="374.3" stroke="#000" stroke-width="2.4" stroke-linecap="round"/>
<line x1="482.6" y1="287.7" x2="482.6" y2="317.4" stroke="#7fa066" stroke-width="1.2"/>
<line x1="482.6" y1="343.3" x2="482.6" y2="362.6" stroke="#7fa066" stroke-width="1.2"/>
<line x1="479.6" y1="287.7" x2="485.6" y2="287.7" stroke="#7fa066" stroke-width="1.2"/>
<line x1="479.6" y1="362.6" x2="485.6" y2="362.6" stroke="#7fa066" stroke-width="1.2"/>
<rect x="477.3" y="317.4" width="10.6" height="25.900000000000034" fill="none" stroke="#7fa066" stroke-width="1.2"/>
<line x1="477.3" y1="332.4" x2="487.90000000000003" y2="332.4" stroke="#7fa066" stroke-width="1.2"/>
<line x1="498.1" y1="271.5" x2="498.1" y2="277.9" stroke="#000" stroke-width="2.4" stroke-linecap="round"/>
<circle cx="498.1" cy="262" r="1.2" fill="#000"/>
<circle cx="498.1" cy="265.9" r="1.2" fill="#000"/>
<line x1="498.1" y1="347.1" x2="498.1" y2="365" stroke="#000" stroke-width="2.4" stroke-linecap="round"/>
<line x1="498.1" y1="277.9" x2="498.1" y2="297.4" stroke="#c42a36" stroke-width="1.2"/>
<line x1="498.1" y1="321.5" x2="498.1" y2="347.0" stroke="#c42a36" stroke-width="1.2"/>
<line x1="495.1" y1="277.9" x2="501.1" y2="277.9" stroke="#c42a36" stroke-width="1.2"/>
<line x1="495.1" y1="347.0" x2="501.1" y2="347.0" stroke="#c42a36" stroke-width="1.2"/>
<rect x="492.8" y="297.4" width="10.6" height="24.100000000000023" fill="none" stroke="#c42a36" stroke-width="1.2"/>
<line x1="492.8" y1="309.5" x2="503.40000000000003" y2="309.5" stroke="#c42a36" stroke-width="1.2"/>
<line x1="390.4" y1="380.7" x2="390.4" y2="383.7" stroke="#111" stroke-width="1.2"/>
<text x="0" y="0" font-size="8.6" text-anchor="end" fill="#111" stroke="#111" stroke-width="0.1" transform="translate(395.4 389.7) rotate(-45)">AML 1</text>
<line x1="405.8" y1="380.7" x2="405.8" y2="383.7" stroke="#111" stroke-width="1.2"/>
<text x="0" y="0" font-size="8.6" text-anchor="end" fill="#111" stroke="#111" stroke-width="0.1" transform="translate(410.8 389.7) rotate(-45)">AML 1 H2A.Z +</text>
<line x1="421.4" y1="380.7" x2="421.4" y2="383.7" stroke="#111" stroke-width="1.2"/>
<text x="0" y="0" font-size="8.6" text-anchor="end" fill="#111" stroke="#111" stroke-width="0.1" transform="translate(426.4 389.7) rotate(-45)">AML 2</text>
<line x1="436.6" y1="380.7" x2="436.6" y2="383.7" stroke="#111" stroke-width="1.2"/>
<text x="0" y="0" font-size="8.6" text-anchor="end" fill="#111" stroke="#111" stroke-width="0.1" transform="translate(441.6 389.7) rotate(-45)">AML2 H2A.Z +</text>
<line x1="452.0" y1="380.7" x2="452.0" y2="383.7" stroke="#111" stroke-width="1.2"/>
<text x="0" y="0" font-size="8.6" text-anchor="end" fill="#111" stroke="#111" stroke-width="0.1" transform="translate(457.0 389.7) rotate(-45)">AML 3</text>
<line x1="467.3" y1="380.7" x2="467.3" y2="383.7" stroke="#111" stroke-width="1.2"/>
<text x="0" y="0" font-size="8.6" text-anchor="end" fill="#111" stroke="#111" stroke-width="0.1" transform="translate(472.3 389.7) rotate(-45)">AML3 H2A.Z +</text>
<line x1="482.6" y1="380.7" x2="482.6" y2="383.7" stroke="#111" stroke-width="1.2"/>
<text x="0" y="0" font-size="8.6" text-anchor="end" fill="#111" stroke="#111" stroke-width="0.1" transform="translate(487.6 389.7) rotate(-45)">AML 4</text>
<line x1="498.1" y1="380.7" x2="498.1" y2="383.7" stroke="#111" stroke-width="1.2"/>
<text x="0" y="0" font-size="8.6" text-anchor="end" fill="#111" stroke="#111" stroke-width="0.1" transform="translate(503.1 389.7) rotate(-45)">AML 4 H2A.Z +</text>
</svg>
</body></html>
